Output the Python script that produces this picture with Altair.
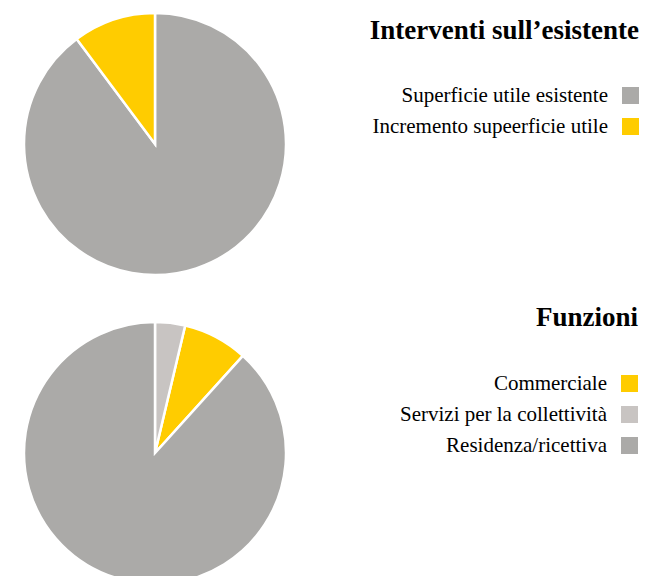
import altair as alt
import pandas as pd

cat1 = ["Superficie utile esistente", "Incremento supeerficie utile"]
val1 = [89.8, 10.2]
ord1 = [1, 2]
col1 = ["#abaaa8", "#ffcc00"]

cat2 = ["Commerciale", "Servizi per la collettività", "Residenza/ricettiva"]
val2 = [8.0, 3.7, 88.3]
ord2 = [2, 1, 3]
col2 = ["#ffcc00", "#c8c4c2", "#abaaa8"]

FONT = "Liberation Serif"


def pie(cats, vals, order, colors, title, lx, ly, tpad):
    df = pd.DataFrame({"cat": cats, "val": vals, "ord": order})
    return alt.Chart(df).mark_arc(outerRadius=131, stroke="white", strokeWidth=2.5).encode(
        theta=alt.Theta("val:Q", stack=True),
        order=alt.Order("ord:Q"),
        color=alt.Color(
            "cat:N",
            sort=cats,
            scale=alt.Scale(domain=cats, range=colors),
            legend=alt.Legend(
                title=title,
                orient="none",
                legendX=lx,
                legendY=ly,
                symbolType="square",
                symbolSize=289,
                symbolStrokeWidth=0,
                labelAlign="right",
                labelOffset={"expr": "-33"},
                labelFont=FONT,
                labelFontSize=21,
                labelColor="black",
                labelLimit=500,
                titleFont=FONT,
                titleFontSize=27,
                titleFontWeight="bold",
                titleColor="black",
                titleAnchor="end",
                titleLimit=600,
                titlePadding=tpad,
                rowPadding=9,
            ),
        ),
    ).properties(width=294, height=266)


p1 = pie(cat1, val1, ord1, col1, "Interventi sull\u2019esistente", 362, 7, 40)
p2 = pie(cat2, val2, ord2, col2, "Funzioni", 528, -15, 41)

chart = alt.vconcat(p1, p2, spacing=43, bounds="flush").resolve_scale(color="independent").resolve_legend(
    color="independent"
).configure_view(stroke=None).properties(background="white", padding=0)

chart.save("out.html", embed_options={"renderer": "svg", "actions": False})
